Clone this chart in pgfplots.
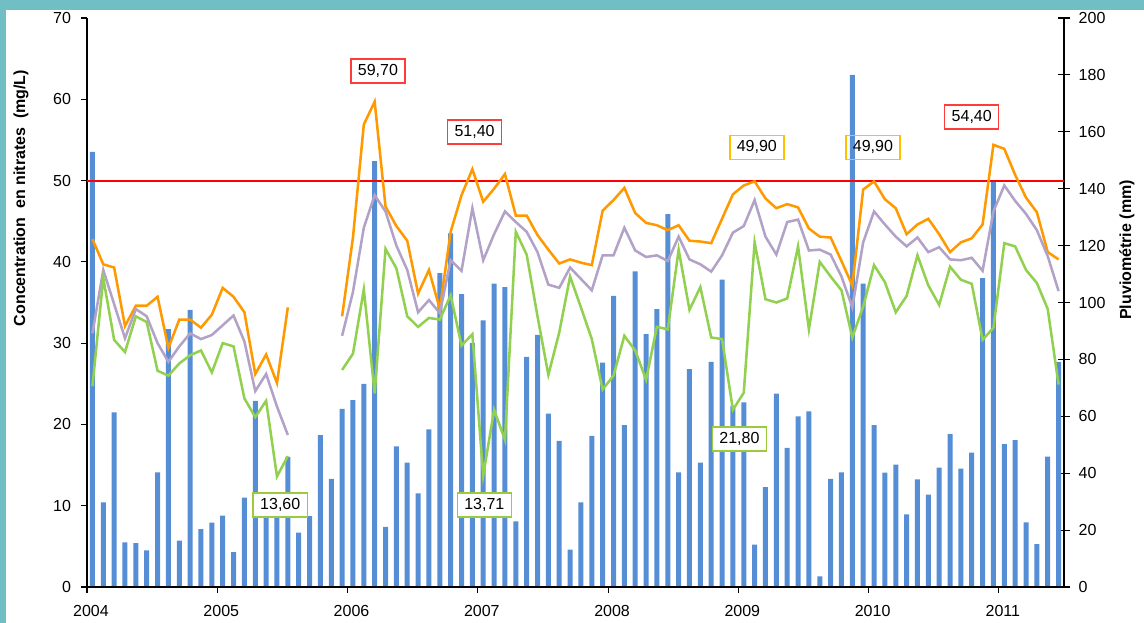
\documentclass[border=0pt]{standalone}
\usepackage{fontspec}
\setmainfont{Liberation Sans}
\usepackage{pgfplots}
\pgfplotsset{compat=1.18}
\usepackage{pgfplotstable}
\definecolor{frameteal}{HTML}{72BEC5}
\definecolor{barblue}{HTML}{558ED5}
\definecolor{lineorange}{HTML}{FF9900}
\definecolor{linepurple}{HTML}{B3A2C7}
\definecolor{linegreen}{HTML}{92D050}
\definecolor{boxred}{HTML}{FF3B3B}
\definecolor{boxyellow}{HTML}{FFC000}
\definecolor{boxgreen}{HTML}{9BCB3C}

% t = month index (0 = Jan 2004) + 0.5 ; rain in mm ; mx/mn/mi nitrate max/mean/min in mg/L
\pgfplotstableread{
t rain mx mn mi
0.5 152.9 42.8 31.2 24.7
1.5 29.7 39.7 39.0 38.0
2.5 61.4 39.3 34.8 30.4
3.5 15.7 32.1 30.6 28.9
4.5 15.4 34.6 34.2 33.3
5.5 12.9 34.6 33.3 32.6
6.5 40.3 35.7 30.0 26.6
7.5 90.6 29.4 27.7 26.0
8.5 16.3 32.9 29.6 27.5
9.5 97.4 32.9 31.2 28.5
10.5 20.3 31.9 30.5 29.1
11.5 22.6 33.5 31.0 26.4
12.5 25.1 36.8 32.2 30.0
13.5 12.3 35.7 33.4 29.6
14.5 31.4 33.8 30.2 23.2
15.5 65.4 26.2 24.1 20.9
16.5 28.6 28.6 26.2 22.9
17.5 27.1 25.1 22.2 13.6
18.5 45.7 34.4 18.7 16.1
19.5 19.1 nan nan nan
20.5 24.9 nan nan nan
21.5 53.4 nan nan nan
22.5 38.0 nan nan nan
23.5 62.6 33.3 30.9 26.7
24.5 65.7 43.0 36.3 28.7
25.5 71.4 56.9 44.2 36.6
26.5 149.7 59.7 48.2 23.8
27.5 21.1 46.8 46.2 41.6
28.5 49.4 44.4 42.0 39.2
29.5 43.7 42.6 39.0 33.3
30.5 32.9 36.1 33.8 32.0
31.5 55.4 39.0 35.3 33.1
32.5 110.3 34.2 33.7 32.9
33.5 124.3 43.7 40.2 35.9
34.5 102.9 48.2 38.9 29.7
35.5 85.7 51.4 46.6 31.1
36.5 93.7 47.4 40.2 13.7
37.5 106.6 49.0 43.4 21.8
38.5 105.4 50.8 46.2 18.1
39.5 23.1 45.7 44.9 43.7
40.5 80.9 45.7 43.7 40.9
41.5 88.6 43.3 41.2 33.3
42.5 60.9 41.5 37.2 26.1
43.5 51.4 39.8 36.8 31.3
44.5 13.1 40.3 39.3 38.2
45.5 29.7 39.9 37.9 34.4
46.5 53.1 39.6 36.5 30.5
47.5 78.9 46.3 40.8 24.3
48.5 102.3 47.6 40.8 26.0
49.5 56.9 49.1 44.2 30.9
50.5 110.9 46.0 41.4 29.1
51.5 88.9 44.8 40.6 25.5
52.5 97.7 44.5 40.8 32.0
53.5 131.1 43.9 40.1 31.7
54.5 40.3 44.5 43.1 41.5
55.5 76.6 42.6 40.3 34.1
56.5 43.7 42.5 39.7 36.9
57.5 79.1 42.3 38.8 30.7
58.5 108.0 45.3 40.8 30.5
59.5 63.7 48.3 43.6 21.8
60.5 64.9 49.4 44.4 23.9
61.5 14.9 49.9 47.6 42.4
62.5 35.1 47.8 43.1 35.4
63.5 68.0 46.6 40.9 35.0
64.5 48.9 47.1 44.9 35.5
65.5 60.0 46.7 45.2 41.9
66.5 61.7 44.1 41.4 31.7
67.5 3.7 43.1 41.5 40.0
68.5 38.0 43.0 40.9 38.2
69.5 40.3 40.1 38.2 36.5
70.5 180.0 37.1 34.4 30.7
71.5 106.6 48.9 42.4 34.5
72.5 56.9 49.9 46.2 39.6
73.5 40.2 47.7 44.6 37.5
74.5 43.0 46.6 43.1 33.8
75.5 25.5 43.4 41.9 35.8
76.5 37.8 44.6 43.0 40.8
77.5 32.5 45.3 41.2 37.1
78.5 42.0 43.4 41.8 34.7
79.5 53.7 41.2 40.3 39.4
80.5 41.6 42.4 40.2 37.8
81.5 47.2 42.9 40.5 37.3
82.5 108.6 44.6 38.9 30.4
83.5 142.8 54.4 46.2 31.9
84.5 50.2 53.9 49.4 42.3
85.5 51.6 50.7 47.5 41.9
86.5 22.7 47.9 45.9 39.0
87.5 15.1 46.1 43.9 37.4
88.5 45.8 41.2 40.7 34.2
89.5 79.0 40.3 36.4 24.9
}\data

\newcommand{\labelbox}[4]{% anchor coordinate, frame colour, fill, text
  \path[draw=#2, fill=#3, line width=1.1pt] ([xshift=-20.25pt,yshift=-9pt]#1) rectangle ([xshift=20.25pt,yshift=9pt]#1);
  \node[inner sep=0pt, text=black, font=\fontsize{12}{14}\selectfont] at (#1) {#4};
}

\begin{document}
\begin{tikzpicture}
\useasboundingbox (0,0) rectangle (858pt,467.25pt);
\fill[frameteal] (0,459.75pt) rectangle (858pt,467.25pt);
\fill[frameteal] (0,0) rectangle (4.5pt,467.25pt);

% rainfall bars, right axis
\begin{axis}[
  at={(65.25pt,27pt)}, anchor=south west, scale only axis,
  width=732.75pt, height=426.75pt,
  xmin=0, xmax=90, ymin=0, ymax=200,
  axis x line=none, axis y line*=right,
  axis line style={black, line width=0.8pt},
  ytick={0,20,...,200},
  tick style={black, line width=0.8pt},
  major tick length=9pt, ytick align=center,
  /pgf/number format/assume math mode=true,
  tick label style={font=\fontsize{12}{14}\selectfont},
  yticklabel style={xshift=3pt},
  ybar, bar width=3.75pt,
]
\addplot[fill=barblue, draw=none] table[x=t, y=rain]{\data};
\end{axis}

% nitrate lines, left axis
\begin{axis}[
  at={(65.25pt,27pt)}, anchor=south west, scale only axis,
  width=732.75pt, height=426.75pt,
  xmin=0, xmax=90, ymin=0, ymax=70,
  axis x line*=bottom, axis y line*=left,
  axis line style={black, line width=0.8pt},
  xtick={0,12,...,84},
  xticklabels={2004,2005,2006,2007,2008,2009,2010,2011},
  ytick={0,10,...,70},
  tick style={black, line width=0.8pt},
  tick align=outside, major tick length=4.5pt,
  /pgf/number format/assume math mode=true,
  tick label style={font=\fontsize{12}{14}\selectfont},
  yticklabel style={xshift=-4pt},
  xticklabel style={yshift=-6pt, xshift=3pt},
  unbounded coords=jump,
]
\addplot[red, line width=1.5pt] coordinates {(0,50) (90,50)};
\addplot[lineorange, line width=1.9pt] table[x=t, y=mx]{\data};
\addplot[linepurple, line width=1.9pt] table[x=t, y=mn]{\data};
\addplot[linegreen, line width=1.9pt] table[x=t, y=mi]{\data};

\coordinate (L1) at (axis cs:26.8,63.5);
\coordinate (L2) at (axis cs:35.7,56.0);
\coordinate (L3) at (axis cs:61.7,54.1);
\coordinate (L4) at (axis cs:72.4,54.1);
\coordinate (L5) at (axis cs:81.5,57.8);
\coordinate (L6) at (axis cs:17.8,10.1);
\coordinate (L7) at (axis cs:36.6,10.1);
\coordinate (L8) at (axis cs:60.1,18.2);
\end{axis}

\labelbox{L1}{boxred}{white}{59,70}
\labelbox{L2}{boxred}{white}{51,40}
\labelbox{L3}{boxyellow}{white}{49,90}
\labelbox{L4}{boxyellow}{none}{49,90}
\labelbox{L5}{boxred}{white}{54,40}
\labelbox{L6}{boxgreen}{white}{13,60}
\labelbox{L7}{boxgreen}{white}{13,71}
\labelbox{L8}{boxgreen}{white}{21,80}

\node[rotate=90, font=\bfseries\fontsize{12}{14}\selectfont] at (15.75pt,318.75pt) {Concentration~~en nitrates~~(mg/L)};
\node[rotate=90, font=\bfseries\fontsize{12}{14}\selectfont] at (845.25pt,279.75pt) {Pluviométrie (mm)};
\end{tikzpicture}
\end{document}
